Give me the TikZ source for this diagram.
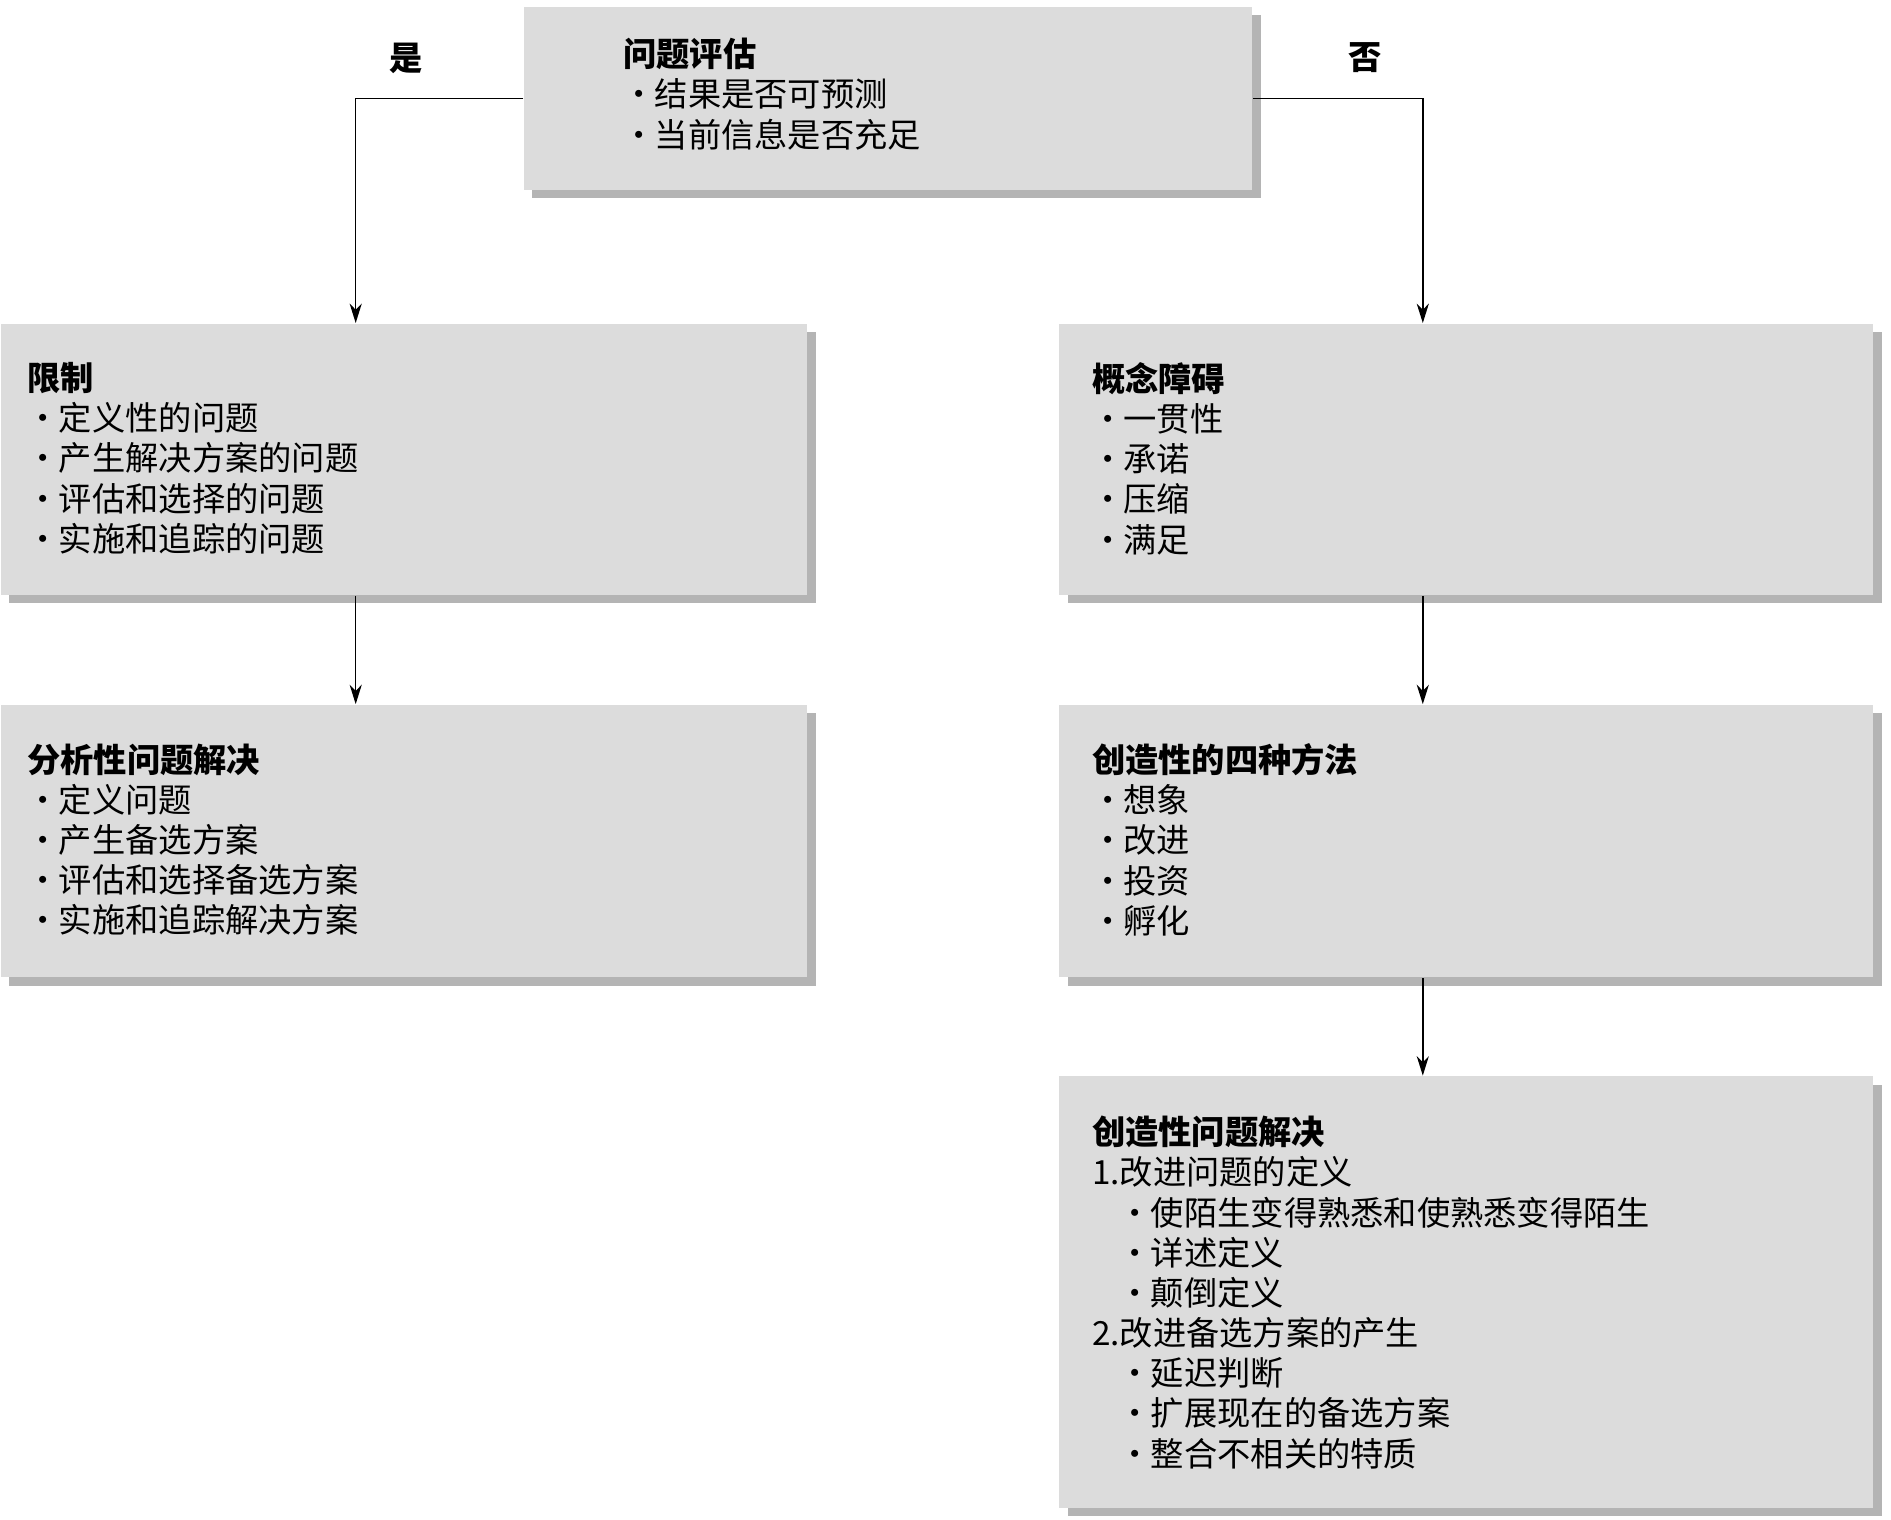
\documentclass[tikz,border=0pt]{standalone}
\usepackage{fontspec}
\setmainfont{Noto Sans CJK SC}
\usepackage{xcolor}
\usetikzlibrary{shadows,positioning,arrows.meta}

\definecolor{boxgray}{RGB}{220,220,220}
\definecolor{shadowgray}{RGB}{180,180,180}
\newcommand{\itm}{\makebox[0.95em][l]{\hspace{-0.03em}\textbullet}}
\newcommand{\subitm}{\hspace{0.82em}\itm}

\tikzset{
  box/.style={rectangle,fill=boxgray,anchor=north west,inner sep=0pt,
    drop shadow={shadow xshift=3.4pt,shadow yshift=-3.4pt,fill=shadowgray,opacity=1}},
  boxtext/.style={anchor=north west,inner sep=0pt,align=left,
    font=\fontsize{13.75}{16.6}\selectfont},
  tag/.style={font=\fontsize{13.75}{16.6}\selectfont\bfseries}
}

\begin{document}
\begin{tikzpicture}[x=0.5pt,y=-0.5pt,>={Stealth[length=8pt,width=5pt,inset=2.5pt]},line width=0.6pt]
\useasboundingbox (0,0) rectangle (1563,1256);

% --- Boxes ---
\node[box,minimum width=301pt,minimum height=75.8pt] (eval) at (432.5,5) {};
\node[box,minimum width=333.4pt,minimum height=112.2pt] (limit) at (0,267) {};
\node[box,minimum width=333.4pt,minimum height=112.6pt] (analytic) at (0,582) {};
\node[box,minimum width=336.4pt,minimum height=112.2pt] (block) at (875,267) {};
\node[box,minimum width=336.4pt,minimum height=112.6pt] (fourway) at (875,582) {};
\node[box,minimum width=336.4pt,minimum height=178.4pt] (creative) at (875,889) {};

% --- Texts inside the boxes ---
\node[boxtext] (evaltxt) at ([shift={(82,26)}]eval.north west)
  {\textbf{问题评估}\\ \itm 结果是否可预测\\ \itm 当前信息是否充足};
\node[boxtext] (limittxt) at ([shift={(22,32)}]limit.north west)
  {\textbf{限制}\\ \itm 定义性的问题\\ \itm 产生解决方案的问题\\ \itm 评估和选择的问题\\ \itm 实施和追踪的问题};
\node[boxtext] (analytictxt) at ([shift={(22,32)}]analytic.north west)
  {\textbf{分析性问题解决}\\ \itm 定义问题\\ \itm 产生备选方案\\ \itm 评估和选择备选方案\\ \itm 实施和追踪解决方案};
\node[boxtext] (blocktxt) at ([shift={(27,32)}]block.north west)
  {\textbf{概念障碍}\\ \itm 一贯性\\ \itm 承诺\\ \itm 压缩\\ \itm 满足};
\node[boxtext] (fourwaytxt) at ([shift={(27,32)}]fourway.north west)
  {\textbf{创造性的四种方法}\\ \itm 想象\\ \itm 改进\\ \itm 投资\\ \itm 孵化};
\node[boxtext] (creativetxt) at ([shift={(27,33)}]creative.north west)
  {\textbf{创造性问题解决}\\ 1.改进问题的定义\\ \subitm 使陌生变得熟悉和使熟悉变得陌生\\
   \subitm 详述定义\\ \subitm 颠倒定义\\ 2.改进备选方案的产生\\
   \subitm 延迟判断\\ \subitm 扩展现在的备选方案\\ \subitm 整合不相关的特质};

% --- Yes / No branches ---
\coordinate (yesx) at (294,0);
\coordinate (nox) at (1176,0);
\node[tag] (yes) at (336,48) {是};
\node[tag] (no) at (1128,48) {否};

\draw[->] (eval.west) -| (yesx |- limit.north);
\draw[->] (eval.east) -| (nox |- block.north);
\draw[->] (yesx |- limit.south) -- (yesx |- analytic.north);
\draw[->] (nox |- block.south) -- (nox |- fourway.north);
\draw[->] (nox |- fourway.south) -- (nox |- creative.north);

\end{tikzpicture}
\end{document}
